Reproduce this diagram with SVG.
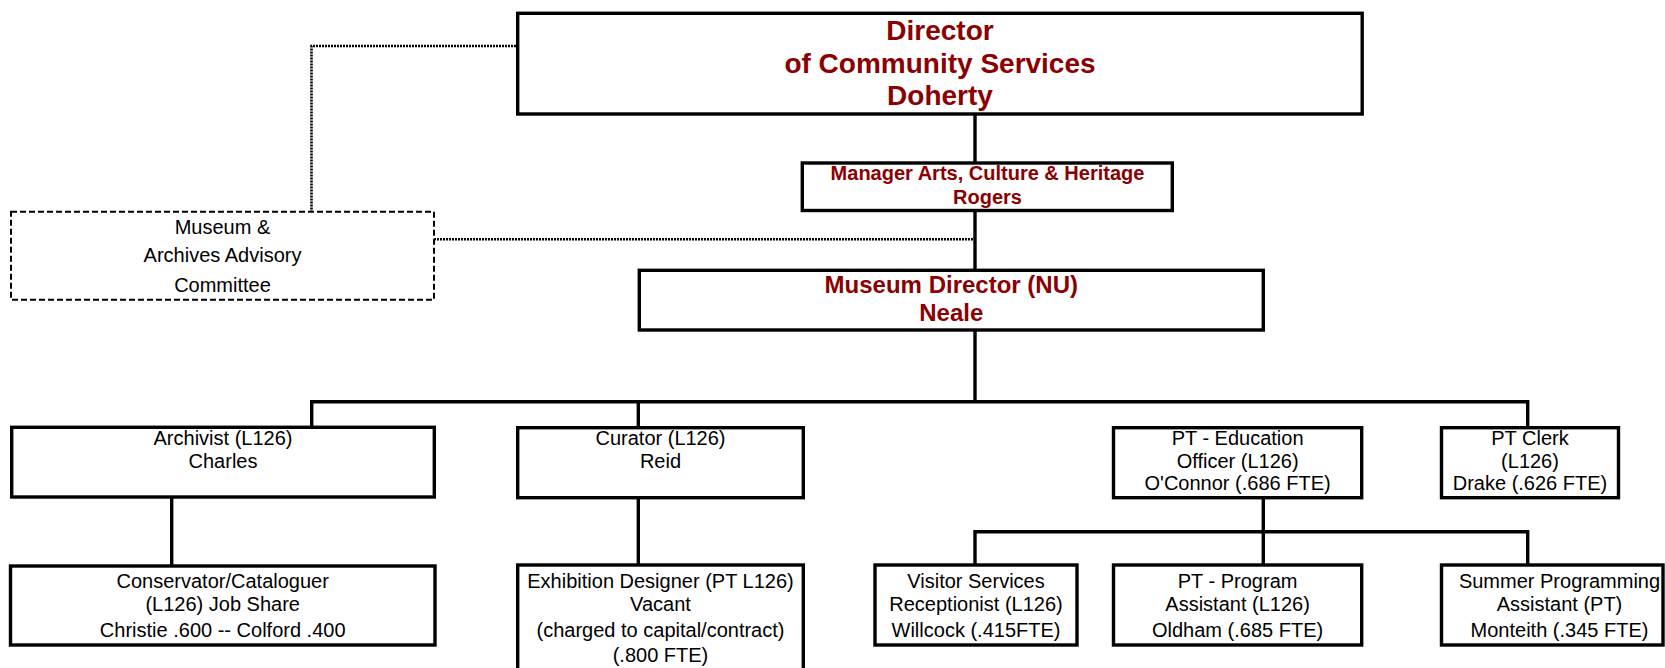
<svg xmlns="http://www.w3.org/2000/svg" width="1665" height="668" viewBox="0 0 1665 668">
  <style>
    .box { fill: #ffffff; stroke: #000000; stroke-width: 3.4; }
    .dash { fill: #ffffff; stroke: #000000; stroke-width: 2; stroke-dasharray: 6 3; }
    .link { fill: none; stroke: #000000; stroke-width: 3.4; }
    .dot { fill: none; stroke: #000000; stroke-width: 2.6; stroke-dasharray: 2 1; }
    .head { font-family: "Liberation Sans", Arial, sans-serif; font-weight: bold; fill: #8B0000; text-anchor: middle; }
    .txt { font-family: "Liberation Sans", Arial, sans-serif; font-size: 20px; fill: #000000; text-anchor: middle; }
  </style>

  <!-- reporting lines -->
  <g id="connectors">
    <path class="link" d="M975 114 V163"/>
    <path class="link" d="M975 210.5 V270.3"/>
    <path class="link" d="M975 330 V401.7"/>
    <path class="link" d="M311.7 427.3 V401.7 H1527.7 V427.7"/>
    <path class="link" d="M638.3 401.7 V427.7"/>
    <path class="link" d="M171.7 497 V566"/>
    <path class="link" d="M638.3 497.7 V565"/>
    <path class="link" d="M1263.3 497.7 V565"/>
    <path class="link" d="M975 565 V531.7 H1527.7 V565"/>
    <!-- advisory links -->
    <path class="dot" d="M516 46 H311.5 V211.7"/>
    <path class="dot" d="M434 239.3 H973"/>
  </g>

  <g id="director">
    <rect class="box" x="517.7" y="13.3" width="844.5" height="100.7"/>
    <text class="head" font-size="28" x="940" y="40">Director</text>
    <text class="head" font-size="28" x="940" y="72.5">of Community Services</text>
    <text class="head" font-size="28" x="940" y="105">Doherty</text>
  </g>

  <g id="manager">
    <rect class="box" x="802.3" y="163" width="370" height="47.5"/>
    <text class="head" font-size="20" x="987.5" y="180">Manager Arts, Culture &amp; Heritage</text>
    <text class="head" font-size="20" x="987.5" y="204">Rogers</text>
  </g>

  <g id="museum-director">
    <rect class="box" x="639.3" y="270.3" width="624" height="59.7"/>
    <text class="head" font-size="24" x="951.3" y="292.7">Museum Director (NU)</text>
    <text class="head" font-size="24" x="951.3" y="320.7">Neale</text>
  </g>

  <g id="advisory-committee">
    <rect class="dash" x="11" y="211.7" width="423" height="88"/>
    <text class="txt" x="222.5" y="234">Museum &amp;</text>
    <text class="txt" x="222.5" y="261.7">Archives Advisory</text>
    <text class="txt" x="222.5" y="292.3">Committee</text>
  </g>

  <g id="archivist">
    <rect class="box" x="11.7" y="427.3" width="422.6" height="69.7"/>
    <text class="txt" x="223" y="445">Archivist (L126)</text>
    <text class="txt" x="223" y="467.5">Charles</text>
  </g>

  <g id="curator">
    <rect class="box" x="517.7" y="427.7" width="285.6" height="70"/>
    <text class="txt" x="660.5" y="445">Curator (L126)</text>
    <text class="txt" x="660.5" y="467.5">Reid</text>
  </g>

  <g id="education-officer">
    <rect class="box" x="1113.5" y="427.7" width="248.2" height="70"/>
    <text class="txt" x="1237.6" y="445">PT - Education</text>
    <text class="txt" x="1237.6" y="467.5">Officer (L126)</text>
    <text class="txt" x="1237.6" y="490">O'Connor (.686 FTE)</text>
  </g>

  <g id="clerk">
    <rect class="box" x="1441.5" y="427.7" width="177" height="70"/>
    <text class="txt" x="1530" y="445">PT Clerk</text>
    <text class="txt" x="1530" y="467.5">(L126)</text>
    <text class="txt" x="1530" y="490">Drake (.626 FTE)</text>
  </g>

  <g id="conservator">
    <rect class="box" x="10.5" y="566" width="424.5" height="79"/>
    <text class="txt" x="222.7" y="588">Conservator/Cataloguer</text>
    <text class="txt" x="222.7" y="611">(L126) Job Share</text>
    <text class="txt" x="222.7" y="637">Christie .600 -- Colford .400</text>
  </g>

  <g id="exhibition-designer">
    <rect class="box" x="517.7" y="565" width="285.6" height="115"/>
    <text class="txt" x="660.5" y="588">Exhibition Designer (PT L126)</text>
    <text class="txt" x="660.5" y="611">Vacant</text>
    <text class="txt" x="660.5" y="637">(charged to capital/contract)</text>
    <text class="txt" x="660.5" y="661.5">(.800 FTE)</text>
  </g>

  <g id="visitor-services">
    <rect class="box" x="875" y="565" width="202" height="80"/>
    <text class="txt" x="976" y="588">Visitor Services</text>
    <text class="txt" x="976" y="611">Receptionist (L126)</text>
    <text class="txt" x="976" y="637">Willcock (.415FTE)</text>
  </g>

  <g id="program-assistant">
    <rect class="box" x="1113.5" y="565" width="248.2" height="80"/>
    <text class="txt" x="1237.6" y="588">PT - Program</text>
    <text class="txt" x="1237.6" y="611">Assistant (L126)</text>
    <text class="txt" x="1237.6" y="637">Oldham (.685 FTE)</text>
  </g>

  <g id="summer-assistant">
    <rect class="box" x="1441.5" y="565" width="221.5" height="80"/>
    <text class="txt" x="1559.5" y="588">Summer Programming</text>
    <text class="txt" x="1559.5" y="611">Assistant (PT)</text>
    <text class="txt" x="1559.5" y="637">Monteith (.345 FTE)</text>
  </g>
</svg>
